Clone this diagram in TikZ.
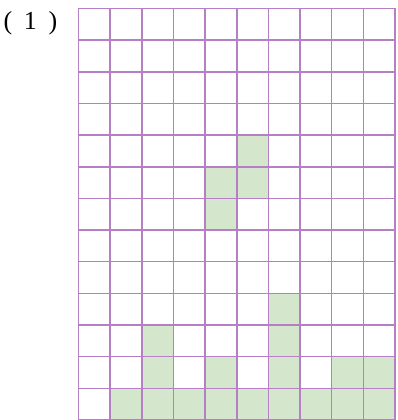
\documentclass[tikz,border=0pt]{standalone}
\usepackage{fontspec}
\setmainfont{Liberation Serif}
\definecolor{gridline}{RGB}{180,128,195}
\definecolor{cellgreen}{RGB}{212,231,204}
\begin{document}
\begin{tikzpicture}[x=1pt,y=-1pt,
  cell/.style={fill=cellgreen,draw=none},
  gridstyle/.style={draw=gridline,line width=1.5pt}]
\useasboundingbox (0,0) rectangle (397,420);
\def\cs{31.65}
\def\ox{78.5}
\def\oy{8.5}
% green cells (col,row)
\foreach \c/\r in {5/4,4/5,5/5,4/6,6/9,2/10,6/10,2/11,4/11,6/11,8/11,9/11,1/12,2/12,3/12,4/12,5/12,6/12,7/12,8/12,9/12}{
  \fill[cell] ({\ox+\c*\cs},{\oy+\r*\cs}) rectangle ++(\cs,\cs);
}
% grid
\foreach \i in {0,...,10}{
  \draw[gridstyle] ({\ox+\i*\cs},\oy) -- ({\ox+\i*\cs},{\oy+13*\cs});
}
\foreach \j in {0,...,13}{
  \draw[gridstyle] (\ox,{\oy+\j*\cs}) -- ({\ox+10*\cs},{\oy+\j*\cs});
}
\node[inner sep=0pt,font=\fontsize{26}{26}\selectfont] (lbl) at (30.5,23) {(\hspace{0.45em}1\hspace{0.45em})};
\end{tikzpicture}
\end{document}
